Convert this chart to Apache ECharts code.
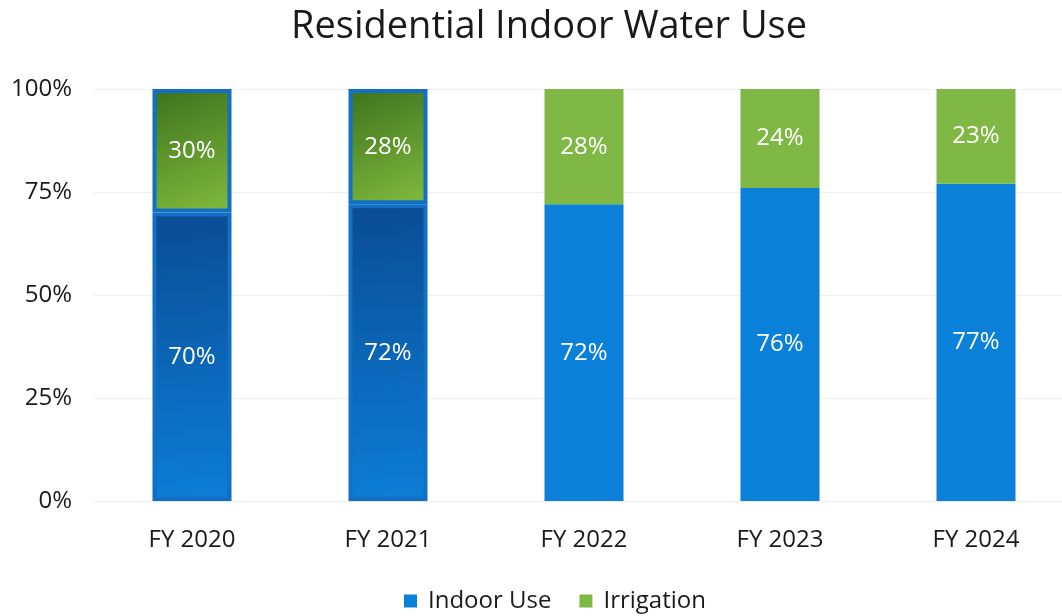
<!DOCTYPE html>
<html>
<head>
<meta charset="utf-8">
<script src="https://cdn.jsdelivr.net/npm/echarts@6/dist/echarts.min.js"></script>
<style>
  html, body { margin: 0; padding: 0; background: #ffffff; }
  #chart { width: 1062px; height: 616px; }
</style>
</head>
<body>
<div id="chart"></div>
<script>
// Fiscal years shown on the x axis
const years = ['FY 2020', 'FY 2021', 'FY 2022', 'FY 2023', 'FY 2024'];
// Share of residential water (percent)
const indoorUse = [70, 72, 72, 76, 77];
const irrigation = [30, 28, 28, 24, 23];
// Percent ticks on the y axis
const yTicks = [0, 25, 50, 75, 100];

const FONT = '"Open Sans", Lato, sans-serif';
const BLUE = '#0b80d9';
const GREEN = '#80b846';

// The two earliest years are drawn with shaded fills and a blue outline
const shadedYears = 2;

function blueShade() {
  return new echarts.graphic.LinearGradient(0, 0, 0.3, 1, [
    { offset: 0, color: '#0a4c93' },
    { offset: 1, color: '#0c7dd6' }
  ]);
}
function greenShade() {
  return new echarts.graphic.LinearGradient(0, 0, 0.6, 1, [
    { offset: 0, color: '#3d721d' },
    { offset: 1, color: '#7cb53b' }
  ]);
}

function buildData(values, kind) {
  return values.map((v, i) => {
    if (i < shadedYears) {
      return {
        value: v,
        itemStyle: {
          color: kind === 'blue' ? blueShade() : greenShade(),
          borderColor: '#136fc4',
          borderWidth: 4
        }
      };
    }
    return { value: v };
  });
}

const labelStyle = {
  show: true,
  position: 'inside',
  color: '#ffffff',
  fontFamily: FONT,
  fontSize: 24,
  formatter: p => p.value + '%'
};

const chart = echarts.init(document.getElementById('chart'), null, { renderer: 'canvas' });
chart.setOption({
  backgroundColor: '#ffffff',
  animation: false,
  title: {
    text: 'Residential Indoor Water Use',
    left: 286,
    top: 3,
    textStyle: { fontFamily: FONT, fontSize: 38, fontWeight: 'normal', color: '#1a1a1a' }
  },
  legend: {
    bottom: -2,
    left: 399,
    itemWidth: 13,
    itemHeight: 13,
    itemGap: 28,
    icon: 'rect',
    textStyle: { fontFamily: FONT, fontSize: 24, color: '#1a1a1a', padding: [0, 0, 0, 6] },
    data: ['Indoor Use', 'Irrigation']
  },
  grid: { left: 94, width: 980, top: 89, height: 412, outerBoundsMode: 'none' },
  xAxis: {
    type: 'category',
    data: years,
    axisLine: { show: true, lineStyle: { color: '#ececec', width: 1 } },
    axisTick: { show: false },
    axisLabel: { fontFamily: FONT, fontSize: 24, color: '#1a1a1a', margin: 27 }
  },
  yAxis: {
    type: 'value',
    min: yTicks[0],
    max: yTicks[yTicks.length - 1],
    interval: yTicks[1] - yTicks[0],
    axisLine: { show: false },
    axisTick: { show: false },
    splitLine: { lineStyle: { color: '#eeeeee', width: 1 } },
    axisLabel: {
      fontFamily: FONT, fontSize: 24, color: '#1a1a1a', margin: 22,
      formatter: v => v + '%'
    }
  },
  series: [
    {
      name: 'Indoor Use',
      type: 'bar',
      stack: 'share',
      barWidth: 79,
      itemStyle: { color: BLUE },
      label: labelStyle,
      data: buildData(indoorUse, 'blue')
    },
    {
      name: 'Irrigation',
      type: 'bar',
      stack: 'share',
      barWidth: 79,
      itemStyle: { color: GREEN },
      label: labelStyle,
      data: buildData(irrigation, 'green')
    }
  ]
});
</script>
</body>
</html>
